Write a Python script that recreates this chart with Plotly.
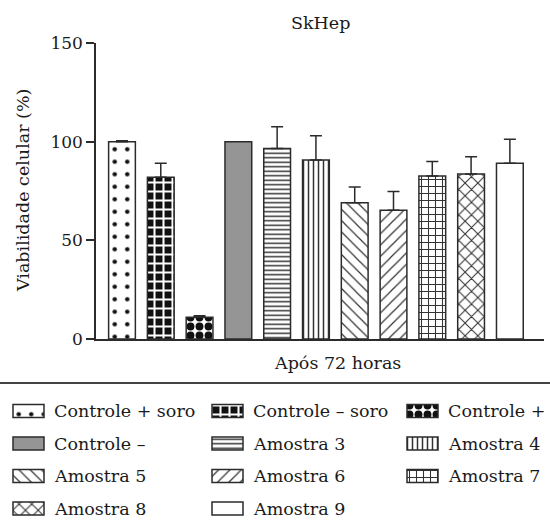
import plotly.graph_objects as go

# Cell viability (%) of SkHep cells after 72 h, mean and SD per condition
labels = ["Controle + soro", "Controle – soro", "Controle +", "Controle –",
          "Amostra 3", "Amostra 4", "Amostra 5", "Amostra 6",
          "Amostra 7", "Amostra 8", "Amostra 9"]
means = [100, 82, 11, 100, 96.5, 90.7, 69, 65.3, 82.6, 83.6, 89]
sd = [0.5, 7, 0.8, 0, 11, 12.3, 8, 9.5, 7.3, 8.8, 12.2]
yticks = [0, 50, 100, 150]

# Fill style for each condition
shapes = [".", "+", ".", "", "-", "|", "\\", "/", "+", "x", ""]
fg = ["#111", "#fff", "#111", "#111", "#333", "#333", "#333", "#333", "#333", "#333", "#111"]
bg = ["#fff", "#111", "#fff", "#959595", "#fff", "#fff", "#fff", "#fff", "#fff", "#fff", "#fff"]
psize = [12.5, 9, 9, 8, 4.5, 5, 8, 8, 7, 9, 8]
psolid = [0.1, 0.4, 0.6, 0.3, 0.33, 0.3, 0.15, 0.15, 0.28, 0.22, 0.3]

W, H = 550, 532
FONT = "DejaVu Serif"
FS = 17.5
INK = "#2b2b2b"
TXT = "#1a1a1a"

# Legend block: swatches laid out in three columns under the chart
ncol = 3
col_left = [13, 212, 407]
row_top, row_pitch = 411, 32.5
sw_w, sw_h, txt_dx = 31, 13, 39


def style(i):
    if shapes[i]:
        pat = dict(shape=shapes[i], fgcolor=fg[i], bgcolor=bg[i],
                   size=psize[i], solidity=psolid[i], fillmode="replace")
    else:
        pat = dict(shape="")
    return dict(color=bg[i] if not shapes[i] else fg[i], pattern=pat,
                line=dict(color=INK, width=1.5))


fig = go.Figure()
annotations = []

for i, lab in enumerate(labels):
    fig.add_trace(go.Bar(
        x=[i], y=[means[i]], width=0.69, name=lab,
        marker=style(i),
        error_y=dict(type="data", symmetric=False, array=[sd[i]],
                     arrayminus=[0], color=INK, thickness=1.5, width=6,
                     visible=sd[i] > 0),
        showlegend=False,
    ))
    x0 = col_left[i % ncol]
    y0 = row_top + row_pitch * (i // ncol)
    fig.add_trace(go.Bar(
        orientation="h", y=[y0], x=[sw_w], base=[x0], width=sw_h, name=lab,
        marker=style(i), xaxis="x2", yaxis="y2", showlegend=False,
        hoverinfo="skip",
    ))
    annotations.append(dict(
        text=lab, x=x0 + txt_dx, y=y0, xref="x2", yref="y2",
        xanchor="left", yanchor="middle", showarrow=False,
        font=dict(size=FS, family=FONT, color=TXT)))

px = lambda v: v / W
py = lambda v: 1 - v / H

annotations += [
    dict(text="SkHep", x=px(320), y=py(23), xref="paper", yref="paper",
         xanchor="center", yanchor="middle", showarrow=False,
         font=dict(size=FS, family=FONT, color=TXT)),
    dict(text="Viabilidade celular (%)", x=px(23), y=py(191), xref="paper",
         yref="paper", xanchor="center", yanchor="middle", textangle=-90,
         showarrow=False, font=dict(size=FS, family=FONT, color=TXT)),
    dict(text="Após 72 horas", x=px(337), y=py(363), xref="paper",
         yref="paper", xanchor="center", yanchor="middle", showarrow=False,
         font=dict(size=FS, family=FONT, color=TXT)),
]

fig.update_layout(
    width=W, height=H,
    margin=dict(l=0, r=0, t=0, b=0),
    paper_bgcolor="white", plot_bgcolor="white",
    barmode="overlay",
    font=dict(family=FONT, size=FS, color=TXT),
    xaxis=dict(domain=[px(96), px(544)], range=[-0.67, 10.88],
               showline=True, linecolor=INK, linewidth=1.5,
               showticklabels=False, ticks="", showgrid=False,
               zeroline=False, automargin=False, fixedrange=True),
    yaxis=dict(domain=[py(339), py(43)], range=[0, 150], tickvals=yticks,
               showline=True, linecolor=INK, linewidth=1.5,
               ticks="outside", ticklen=8, tickwidth=1.5, tickcolor=INK,
               tickfont=dict(size=17, family=FONT, color=TXT),
               showgrid=False, zeroline=False, automargin=False,
               fixedrange=True),
    xaxis2=dict(domain=[0, 1], range=[0, W], visible=False, anchor="y2",
                fixedrange=True),
    yaxis2=dict(domain=[0, py(383)], range=[H, 383], visible=False,
                anchor="x2", fixedrange=True),
    shapes=[dict(type="line", xref="paper", yref="paper", x0=0, x1=1,
                 y0=py(383), y1=py(383), line=dict(color="#444", width=2))],
    annotations=annotations,
)

fig.write_html("out.html")
